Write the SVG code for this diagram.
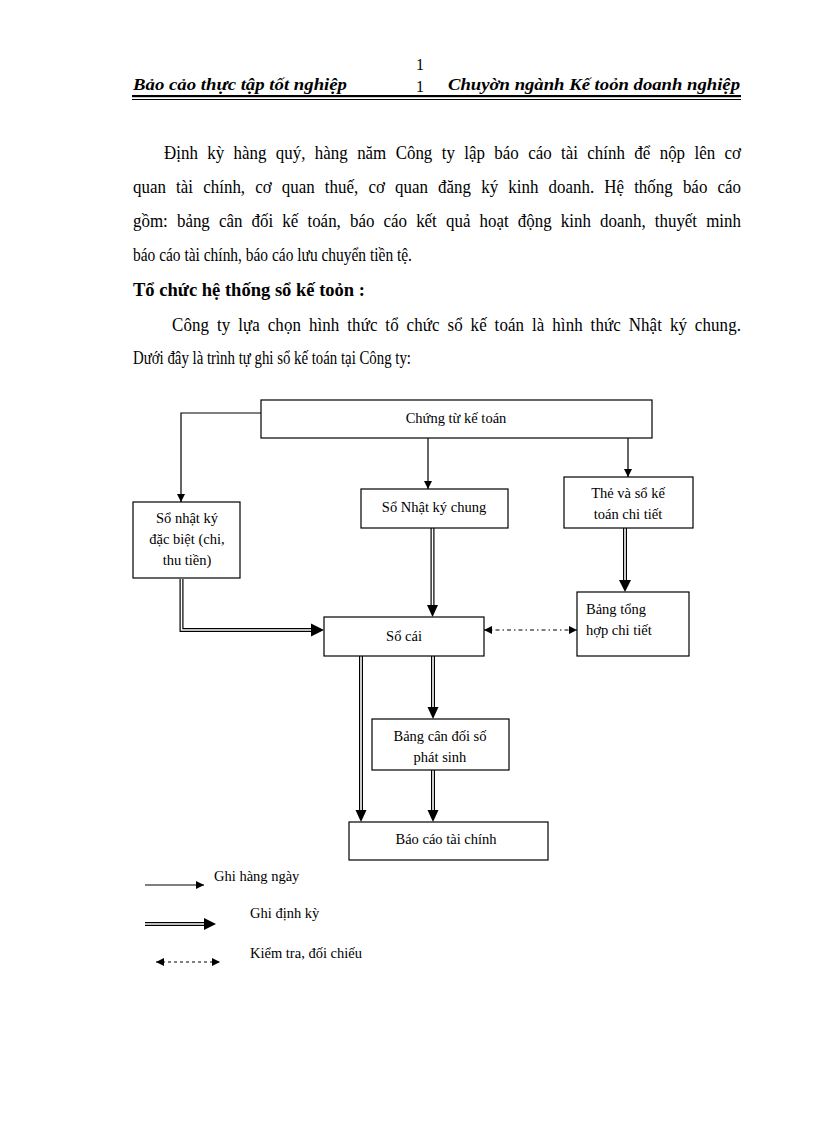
<svg xmlns="http://www.w3.org/2000/svg" width="816" height="1123" viewBox="0 0 816 1123">
<style>
  .hdr { font-family: "Liberation Serif", "Times New Roman", serif; font-size: 17px; font-weight: bold; font-style: italic; fill: #000; }
  .num { font-family: "Liberation Serif", "Times New Roman", serif; font-size: 16px; fill: #000; }
  .body { font-family: "Liberation Serif", "Times New Roman", serif; font-size: 18px; fill: #000; }
  .bold { font-weight: bold; }
  .lbl { font-family: "Liberation Serif", "Times New Roman", serif; font-size: 14.5px; fill: #000; text-anchor: middle; }
  .leg { font-family: "Liberation Serif", "Times New Roman", serif; font-size: 14.5px; fill: #000; }
  .box { fill: #fff; stroke: #000; stroke-width: 1.2; }
  .sgl { fill: none; stroke: #000; stroke-width: 1.2; }
  .dbo { fill: none; stroke: #000; stroke-width: 4; }
  .dbi { fill: none; stroke: #fff; stroke-width: 1.6; }
  .head { fill: #000; }
</style>
<defs>
  <marker id="arr" viewBox="0 0 10 10" refX="10" refY="5" markerWidth="8" markerHeight="8" markerUnits="userSpaceOnUse" orient="auto-start-reverse">
    <path d="M0,0 L10,5 L0,10 Z" fill="#000"/>
  </marker>
</defs>
<rect width="816" height="1123" fill="#fff"/>

<g id="header">
  <text class="hdr" x="133" y="90" textLength="214" lengthAdjust="spacingAndGlyphs">Bảo cảo thực tập tốt nghiệp</text>
  <text class="num" x="416" y="70">1</text>
  <text class="num" x="416" y="92">1</text>
  <text class="hdr" x="448" y="90" textLength="292" lengthAdjust="spacingAndGlyphs">Chuyờn ngành Kế toỏn doanh nghiệp</text>
  <rect x="132" y="95" width="609" height="2.2" fill="#000"/>
  <rect x="132" y="99" width="609" height="1" fill="#000"/>
</g>

<g id="paragraph" transform="scale(0.94 1)">
  <text class="body" x="174.5" y="159" word-spacing="5.5" textLength="613.8" lengthAdjust="spacing">Định kỳ hàng quý, hàng năm Công ty lập báo cáo tài chính để nộp lên cơ</text>
  <text class="body" x="141.5" y="193" word-spacing="6.2" textLength="646.8" lengthAdjust="spacing">quan tài chính, cơ quan thuế, cơ quan đăng ký kinh doanh. Hệ thống báo cáo</text>
  <text class="body" x="141.5" y="227" word-spacing="5.2" textLength="646.8" lengthAdjust="spacing">gồm: bảng cân đối kế toán, báo cáo kết quả hoạt động kinh doanh, thuyết minh</text>
  <text class="body" x="141.5" y="261" textLength="296.8" lengthAdjust="spacingAndGlyphs">báo cáo tài chính, báo cáo lưu chuyển tiền tệ.</text>
  <text class="body bold" x="141.5" y="296" textLength="246.8" lengthAdjust="spacingAndGlyphs">Tổ chức hệ thống sổ kế toỏn :</text>
  <text class="body" x="183" y="331" word-spacing="3.7" textLength="605.3" lengthAdjust="spacing">Công ty lựa chọn hình thức tổ chức sổ kế toán là hình thức Nhật ký chung.</text>
  <text class="body" x="141.5" y="364" textLength="295.7" lengthAdjust="spacingAndGlyphs">Dưới đây là trình tự ghi sổ kế toán tại Công ty:</text>
</g>

<g id="connectors">
  <path class="sgl" d="M261,413 H181 V502" marker-end="url(#arr)"/>
  <path class="sgl" d="M428,438 V489" marker-end="url(#arr)"/>
  <path class="sgl" d="M628,438 V477" marker-end="url(#arr)"/>

  <path class="dbo" d="M181.5,579 V630 H312"/>
  <path class="dbi" d="M181.5,579 V630 H313"/>
  <polygon class="head" points="311,623.5 324,630 311,636.5"/>

  <path class="dbo" d="M432.5,528 V606"/>
  <path class="dbi" d="M432.5,528 V607"/>
  <polygon class="head" points="427,605 438,605 432.5,617"/>

  <path class="dbo" d="M625,528 V581"/>
  <path class="dbi" d="M625,528 V582"/>
  <polygon class="head" points="619,580 631,580 625,592"/>

  <path class="sgl" d="M484,630 H577" stroke-dasharray="4 3 1.5 3" marker-start="url(#arr)" marker-end="url(#arr)"/>

  <path class="dbo" d="M361,656 V811"/>
  <path class="dbi" d="M361,656 V812"/>
  <polygon class="head" points="355.5,810 366.5,810 361,822"/>

  <path class="dbo" d="M433,656 V708"/>
  <path class="dbi" d="M433,656 V709"/>
  <polygon class="head" points="427.5,707 438.5,707 433,719"/>

  <path class="dbo" d="M433,770 V811"/>
  <path class="dbi" d="M433,770 V812"/>
  <polygon class="head" points="427.5,810 438.5,810 433,822"/>
</g>

<g id="n-chungtu">
  <rect class="box" x="261" y="400" width="391" height="38"/>
  <text class="lbl" x="456" y="423">Chứng từ kế toán</text>
</g>
<g id="n-nhatkydacbiet">
  <rect class="box" x="133" y="502" width="107" height="76"/>
  <text class="lbl" x="187" y="523">Sổ nhật  ký</text>
  <text class="lbl" x="187" y="544">đặc biệt  (chi,</text>
  <text class="lbl" x="187" y="565">thu  tiền)</text>
</g>
<g id="n-nhatkychung">
  <rect class="box" x="361" y="489" width="147" height="39"/>
  <text class="lbl" x="434" y="512">Sổ Nhật ký chung</text>
</g>
<g id="n-thechitiet">
  <rect class="box" x="564" y="477" width="129" height="51"/>
  <text class="lbl" x="628" y="498">Thẻ  và  sổ  kế</text>
  <text class="lbl" x="628" y="519">toán chi  tiết</text>
</g>
<g id="n-tonghop">
  <rect class="box" x="577" y="592" width="112" height="64"/>
  <text class="leg" x="586" y="614">Bảng  tổng</text>
  <text class="leg" x="586" y="635">hợp chi  tiết</text>
</g>
<g id="n-socai">
  <rect class="box" x="324" y="617" width="160" height="39"/>
  <text class="lbl" x="404" y="641">Sổ cái</text>
</g>
<g id="n-candoi">
  <rect class="box" x="372" y="719" width="137" height="51"/>
  <text class="lbl" x="440" y="741">Bảng  cân  đối  số</text>
  <text class="lbl" x="440" y="762">phát  sinh</text>
</g>
<g id="n-baocao">
  <rect class="box" x="349" y="822" width="199" height="38"/>
  <text class="lbl" x="446" y="844">Báo  cáo  tài  chính</text>
</g>

<g id="legend">
  <path class="sgl" d="M145,885 H204" marker-end="url(#arr)"/>
  <text class="leg" x="214" y="881">Ghi  hàng  ngày</text>
  <path class="dbo" d="M145,924 H205"/>
  <path class="dbi" d="M145,924 H206"/>
  <polygon class="head" points="204,918 216,924 204,930"/>
  <text class="leg" x="250" y="918">Ghi  định  kỳ</text>
  <path class="sgl" d="M156,962 H220" stroke-dasharray="3 3" marker-start="url(#arr)" marker-end="url(#arr)"/>
  <text class="leg" x="250" y="958">Kiểm  tra,  đối  chiếu</text>
</g>
</svg>
